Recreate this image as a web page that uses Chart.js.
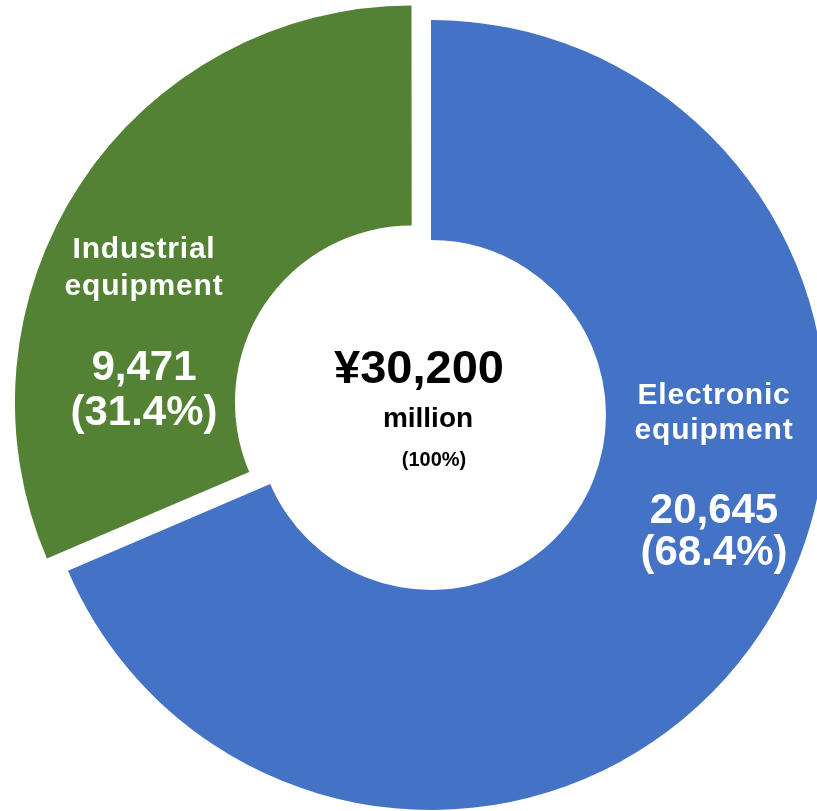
<!DOCTYPE html>
<html>
<head>
<meta charset="utf-8">
<title>Sales by segment</title>
<script src="https://cdn.jsdelivr.net/npm/chart.js@4/dist/chart.umd.min.js"></script>
<style>
  html, body { margin: 0; padding: 0; background: #ffffff; overflow: hidden; }
  #wrap { position: absolute; left: 0; top: 0; width: 862px; height: 830px; }
</style>
</head>
<body>
<div id="wrap"><canvas id="chart" width="862" height="830"></canvas></div>
<script>
// Segment sales, in millions of yen
const segmentNames = [['Electronic', 'equipment'], ['Industrial', 'equipment']];
const segmentSales = [20645, 9471];
const totalSales = 30200;
const segmentColors = ['#4472C4', '#548235'];

const FONT = '"Liberation Sans", Arial, Helvetica, sans-serif';
const fmt = v => v.toLocaleString('en-US');
const pct = v => (v / totalSales * 100).toFixed(1) + '%';

// Text layout for each segment, relative to the ring centre
const labelLayout = [
  { dx: 283, name: [-11, 24], value: [108, 150] },
  { dx: -287, name: [-157, -120], value: [-35, 10] }
];

const labelPlugin = {
  id: 'segmentLabels',
  afterDraw(chart) {
    const ctx = chart.ctx;
    const area = chart.chartArea;
    const cx = (area.left + area.right) / 2;
    const cy = (area.top + area.bottom) / 2;
    ctx.save();
    ctx.textAlign = 'center';
    ctx.textBaseline = 'alphabetic';
    ctx.fillStyle = '#ffffff';
    segmentNames.forEach((lines, i) => {
      const L = labelLayout[i];
      ctx.font = 'bold 30px ' + FONT;
      ctx.letterSpacing = '0.8px';
      lines.forEach((t, j) => ctx.fillText(t, cx + L.dx, cy + L.name[j]));
      ctx.letterSpacing = '0px';
      ctx.font = 'bold 42px ' + FONT;
      ctx.fillText(fmt(segmentSales[i]), cx + L.dx, cy + L.value[0]);
      ctx.fillText('(' + pct(segmentSales[i]) + ')', cx + L.dx, cy + L.value[1]);
    });
    // Total in the hole
    ctx.fillStyle = '#000000';
    ctx.font = 'bold 47px ' + FONT;
    ctx.fillText('\u00A5' + fmt(totalSales), cx - 12, cy - 32);
    ctx.font = 'bold 28px ' + FONT;
    ctx.fillText('million', cx - 3, cy + 12);
    ctx.font = 'bold 20px ' + FONT;
    ctx.fillText('(100%)', cx + 3, cy + 51);
    ctx.restore();
  }
};

new Chart(document.getElementById('chart'), {
  type: 'doughnut',
  data: {
    labels: segmentNames.map(n => n.join(' ')),
    datasets: [{
      data: segmentSales,
      backgroundColor: segmentColors,
      borderWidth: 0,
      // arc offsets are applied at a quarter of this value
      offset: [0, 92]
    }]
  },
  options: {
    responsive: false,
    devicePixelRatio: 1,
    animation: false,
    events: [],
    radius: 395,
    cutout: '44.3%',
    layout: { padding: 0 },
    plugins: {
      legend: { display: false },
      tooltip: { enabled: false }
    }
  },
  plugins: [labelPlugin]
});
</script>
</body>
</html>
